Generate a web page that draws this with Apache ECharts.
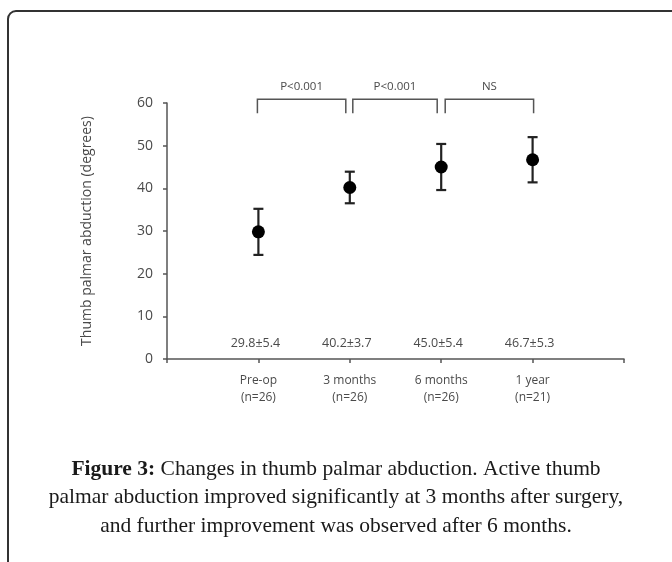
<!DOCTYPE html>
<html>
<head>
<meta charset="utf-8">
<script src="https://cdn.jsdelivr.net/npm/echarts@6/dist/echarts.min.js"></script>
<style>
  html, body { margin: 0; padding: 0; background: #fff; }
  #chart { width: 672px; height: 562px; }
</style>
</head>
<body>
<div id="chart"></div>
<script>
// Datos del gráfico
const timepoints = ['Pre-op', '3 months', '6 months', '1 year'];
const counts = [26, 26, 26, 21];
const means = [29.8, 40.2, 45.0, 46.7];
const sds = [5.4, 3.7, 5.4, 5.3];
const pLabels = ['P<0.001', 'P<0.001', 'NS'];
const yTicks = [0, 10, 20, 30, 40, 50, 60];

// Eje de categorías con huecos al principio y al final
const categories = [''].concat(timepoints.map((t, i) => t + '\n(n=' + counts[i] + ')'), ['']);

const axisColor = '#555';
const textColor = '#4a4a4a';

const chart = echarts.init(document.getElementById('chart'));

const pointData = means.map((m, i) => [i + 1, m]);
const errData = means.map((m, i) => [i + 1, m - sds[i], m + sds[i]]);
const statData = means.map((m, i) => [i + 1, 3.75, m.toFixed(1) + '±' + sds[i].toFixed(1)]);
const bracketData = pLabels.map((p, i) => [i + 1, i + 2, p]);

const option = {
    animation: false,
    grid: { left: 167, top: 103, right: 48, bottom: 203 },
    xAxis: {
        type: 'category',
        data: categories,
        boundaryGap: false,
        axisLine: { lineStyle: { color: axisColor, width: 1.5 } },
        axisTick: { length: 4, lineStyle: { color: axisColor, width: 1.5 } },
        axisLabel: {
            interval: 0,
            margin: 13,
            fontFamily: 'Open Sans',
            fontSize: 12,
            lineHeight: 17,
            color: textColor
        }
    },
    yAxis: {
        type: 'value',
        min: yTicks[0],
        max: yTicks[yTicks.length - 1],
        interval: 10,
        name: 'Thumb palmar abduction (degrees)',
        nameLocation: 'middle',
        nameGap: 73,
        nameTextStyle: { fontFamily: 'Open Sans', fontSize: 14, color: textColor },
        splitLine: { show: false },
        axisLine: { show: true, lineStyle: { color: axisColor, width: 1.5 } },
        axisTick: { show: true, length: 4, lineStyle: { color: axisColor, width: 1.5 } },
        axisLabel: { margin: 14, fontFamily: 'Open Sans', fontSize: 14, color: textColor }
    },
    graphic: [
        {
            type: 'rect',
            shape: { x: 8, y: 11, width: 720, height: 620, r: 8 },
            style: { fill: null, stroke: '#333', lineWidth: 2 }
        },
        {
            type: 'text',
            x: 336,
            y: 455,
            style: {
                text: '{b|Figure 3:} Changes in thumb palmar abduction. Active thumb\npalmar abduction improved significantly at 3 months after surgery,\nand further improvement was observed after 6 months.',
                fontFamily: 'Liberation Serif',
                fontSize: 21.5,
                lineHeight: 28.5,
                fill: '#1a1a1a',
                align: 'center',
                verticalAlign: 'top',
                rich: {
                    b: { fontFamily: 'Liberation Serif', fontSize: 21.5, fontWeight: 'bold', fill: '#1a1a1a' }
                }
            }
        }
    ],
    series: [
        {
            // Barras de error
            type: 'custom',
            data: errData,
            renderItem: function (params, api) {
                const lo = api.coord([api.value(0), api.value(1)]);
                const hi = api.coord([api.value(0), api.value(2)]);
                const cap = 5;
                const style = { stroke: '#222', lineWidth: 2.2 };
                return {
                    type: 'group',
                    children: [
                        { type: 'line', shape: { x1: lo[0], y1: lo[1], x2: hi[0], y2: hi[1] }, style: style },
                        { type: 'line', shape: { x1: lo[0] - cap, y1: lo[1], x2: lo[0] + cap, y2: lo[1] }, style: style },
                        { type: 'line', shape: { x1: hi[0] - cap, y1: hi[1], x2: hi[0] + cap, y2: hi[1] }, style: style }
                    ]
                };
            },
            z: 2
        },
        {
            // Medias
            type: 'scatter',
            data: pointData,
            symbol: 'circle',
            symbolSize: 13,
            itemStyle: { color: '#000', opacity: 1 },
            z: 3
        },
        {
            // Texto media ± DE
            type: 'custom',
            data: statData,
            renderItem: function (params, api) {
                const p = api.coord([api.value(0), api.value(1)]);
                return {
                    type: 'text',
                    x: p[0] - 3,
                    y: p[1],
                    style: {
                        text: statData[params.dataIndex][2],
                        fontFamily: 'Open Sans',
                        fontSize: 12.5,
                        fill: textColor,
                        align: 'center',
                        verticalAlign: 'middle'
                    }
                };
            }
        },
        {
            // Corchetes de significancia
            type: 'custom',
            data: bracketData,
            clip: false,
            renderItem: function (params, api) {
                const i = params.dataIndex;
                const top = 60.9;
                const bottom = 57.6;
                const a = api.coord([api.value(0), top]);
                const b = api.coord([api.value(1), top]);
                const yb = api.coord([api.value(0), bottom])[1];
                const x1 = a[0] + (i === 0 ? -1 : 2 + i);
                const x2 = b[0] - (i === bracketData.length - 1 ? -1 : 4);
                const style = { stroke: axisColor, lineWidth: 1.5, fill: null };
                return {
                    type: 'group',
                    children: [
                        {
                            type: 'polyline',
                            shape: { points: [[x1, yb], [x1, a[1]], [x2, a[1]], [x2, yb]] },
                            style: style
                        },
                        {
                            type: 'text',
                            x: (x1 + x2) / 2,
                            y: a[1] - 12,
                            style: {
                                text: bracketData[i][2],
                                fontFamily: 'Open Sans',
                                fontSize: 11.5,
                                fill: textColor,
                                align: 'center',
                                verticalAlign: 'middle'
                            }
                        }
                    ]
                };
            }
        }
    ]
};

chart.setOption(option);
</script>
</body>
</html>
